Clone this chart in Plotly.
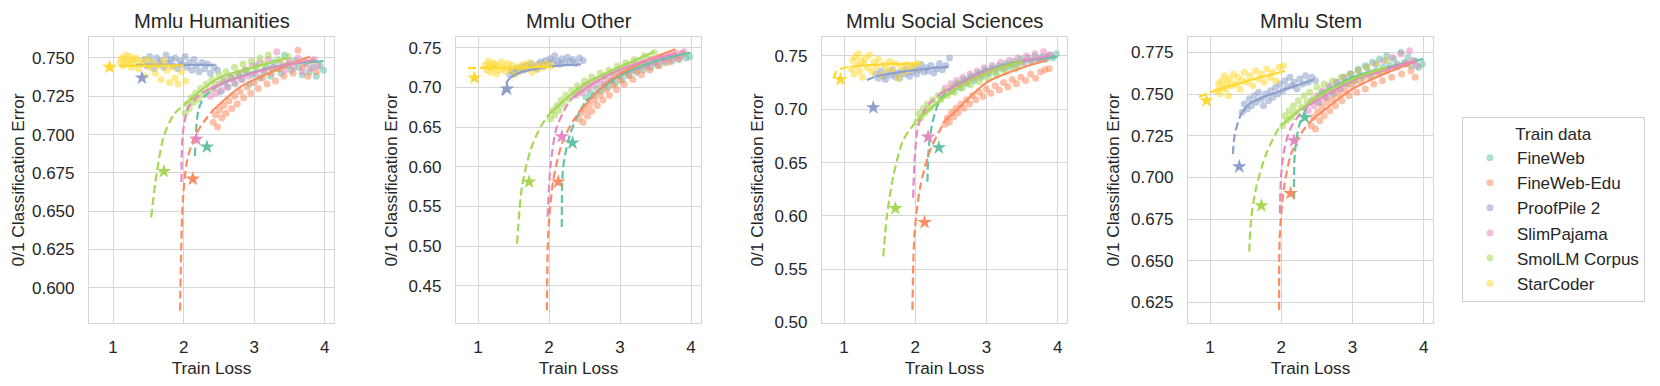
import plotly.graph_objects as go

# Train data sets, legend order, and their seaborn "Set2" colours
DATASETS = ["FineWeb", "FineWeb-Edu", "ProofPile 2", "SlimPajama", "SmolLM Corpus", "StarCoder"]
COLORS = ["#66c2a5", "#fc8d62", "#8da0cb", "#e78ac3", "#a6d854", "#ffd92f"]
PANELS = ["Mmlu Humanities", "Mmlu Other", "Mmlu Social Sciences", "Mmlu Stem"]

# Train loss of the models (same runs in every panel)
LOSS_FINEWEB = [2.52, 2.58, 2.63, 2.68, 2.73, 2.78, 2.83, 2.88, 2.93, 2.98, 3.03, 3.08, 3.13, 3.18, 3.23,
                3.28, 3.33, 3.38, 3.43, 3.48, 3.53, 3.58, 3.63, 3.68, 3.73, 3.78, 3.83, 3.88, 3.93, 3.98]
LOSS_EDU = [2.42, 2.45, 2.48, 2.51, 2.54, 2.57, 2.60, 2.64, 2.68, 2.72, 2.76, 2.80, 2.85, 2.90, 2.95,
            3.00, 3.06, 3.12, 3.18, 3.24, 3.30, 3.36, 3.42, 3.48, 3.55, 3.62, 3.69, 3.76, 3.82, 3.88]
LOSS_PROOF = [1.45, 1.48, 1.52, 1.55, 1.58, 1.62, 1.65, 1.68, 1.72, 1.75, 1.78, 1.82, 1.85, 1.88, 1.92,
              1.95, 1.98, 2.02, 2.05, 2.08, 2.12, 2.15, 2.18, 2.22, 2.26, 2.30, 2.34, 2.38, 2.43, 2.48]
LOSS_SLIM = [2.38, 2.42, 2.46, 2.50, 2.54, 2.58, 2.62, 2.67, 2.72, 2.77, 2.82, 2.87, 2.92, 2.97, 3.02,
             3.08, 3.14, 3.20, 3.26, 3.32, 3.38, 3.44, 3.50, 3.56, 3.62, 3.68, 3.74, 3.80, 3.85, 3.90]
LOSS_SMOL = [2.02, 2.05, 2.08, 2.11, 2.14, 2.17, 2.20, 2.24, 2.28, 2.32, 2.36, 2.40, 2.45, 2.50, 2.55,
             2.60, 2.66, 2.72, 2.78, 2.84, 2.90, 2.96, 3.02, 3.08, 3.14, 3.20, 3.27, 3.34, 3.41, 3.48]
LOSS_STAR = [1.10, 1.12, 1.14, 1.16, 1.18, 1.20, 1.22, 1.24, 1.26, 1.28, 1.30, 1.33, 1.36, 1.39, 1.42,
             1.45, 1.48, 1.52, 1.56, 1.60, 1.64, 1.68, 1.72, 1.76, 1.80, 1.84, 1.88, 1.92, 1.97, 2.03]
LOSS = dict(zip(DATASETS, [LOSS_FINEWEB, LOSS_EDU, LOSS_PROOF, LOSS_SLIM, LOSS_SMOL, LOSS_STAR]))

# 0/1 classification error per panel
ERR_HUM = {
    "FineWeb": [0.728, 0.734, 0.731, 0.737, 0.733, 0.740, 0.736, 0.742, 0.733, 0.739, 0.745, 0.737, 0.741, 0.744, 0.738,
                0.747, 0.743, 0.740, 0.752, 0.745, 0.742, 0.748, 0.744, 0.739, 0.746, 0.741, 0.744, 0.738, 0.745, 0.742],
    "FineWeb-Edu": [0.708, 0.713, 0.705, 0.716, 0.711, 0.719, 0.714, 0.722, 0.717, 0.725, 0.720, 0.728, 0.724, 0.731, 0.727,
                    0.734, 0.730, 0.737, 0.733, 0.740, 0.735, 0.743, 0.738, 0.746, 0.740, 0.755, 0.744, 0.738, 0.748, 0.741],
    "ProofPile 2": [0.749, 0.745, 0.751, 0.747, 0.743, 0.750, 0.746, 0.748, 0.744, 0.752, 0.747, 0.749, 0.745, 0.750, 0.743,
                    0.748, 0.746, 0.751, 0.744, 0.747, 0.742, 0.749, 0.745, 0.741, 0.747, 0.743, 0.746, 0.740, 0.744, 0.742],
    "SlimPajama": [0.725, 0.730, 0.727, 0.733, 0.729, 0.736, 0.731, 0.738, 0.734, 0.740, 0.736, 0.742, 0.738, 0.745, 0.740,
                   0.747, 0.742, 0.749, 0.744, 0.754, 0.746, 0.742, 0.748, 0.744, 0.750, 0.741, 0.747, 0.743, 0.749, 0.745],
    "SmolLM Corpus": [0.714, 0.720, 0.717, 0.724, 0.721, 0.727, 0.723, 0.730, 0.726, 0.733, 0.729, 0.736, 0.732, 0.739, 0.735,
                      0.741, 0.737, 0.744, 0.740, 0.746, 0.742, 0.748, 0.744, 0.750, 0.746, 0.752, 0.743, 0.749, 0.745, 0.751],
    "StarCoder": [0.747, 0.750, 0.745, 0.749, 0.752, 0.746, 0.748, 0.751, 0.744, 0.749, 0.747, 0.750, 0.743, 0.748, 0.746,
                  0.738, 0.749, 0.744, 0.747, 0.740, 0.745, 0.736, 0.748, 0.742, 0.734, 0.744, 0.737, 0.733, 0.741, 0.735],
}
ERR_OTH = {
    "FineWeb": [0.688, 0.694, 0.690, 0.699, 0.695, 0.704, 0.700, 0.709, 0.705, 0.714, 0.710, 0.718, 0.715, 0.722, 0.719,
                0.726, 0.722, 0.729, 0.725, 0.732, 0.728, 0.735, 0.731, 0.737, 0.733, 0.740, 0.735, 0.742, 0.737, 0.739],
    "FineWeb-Edu": [0.660, 0.668, 0.656, 0.672, 0.664, 0.678, 0.670, 0.684, 0.677, 0.690, 0.684, 0.697, 0.690, 0.703, 0.697,
                    0.709, 0.704, 0.715, 0.710, 0.721, 0.716, 0.727, 0.722, 0.732, 0.727, 0.737, 0.732, 0.741, 0.736, 0.743],
    "ProofPile 2": [0.716, 0.721, 0.718, 0.724, 0.720, 0.726, 0.722, 0.728, 0.724, 0.730, 0.726, 0.723, 0.729, 0.732, 0.727,
                    0.734, 0.730, 0.736, 0.732, 0.740, 0.733, 0.729, 0.736, 0.731, 0.738, 0.733, 0.735, 0.730, 0.737, 0.734],
    "SlimPajama": [0.690, 0.697, 0.693, 0.702, 0.698, 0.706, 0.702, 0.710, 0.706, 0.714, 0.710, 0.718, 0.714, 0.722, 0.718,
                   0.726, 0.722, 0.729, 0.725, 0.732, 0.728, 0.735, 0.731, 0.738, 0.734, 0.741, 0.736, 0.743, 0.739, 0.745],
    "SmolLM Corpus": [0.660, 0.671, 0.665, 0.677, 0.671, 0.684, 0.678, 0.690, 0.685, 0.696, 0.691, 0.702, 0.697, 0.708, 0.703,
                      0.713, 0.709, 0.718, 0.714, 0.722, 0.719, 0.727, 0.723, 0.731, 0.727, 0.735, 0.731, 0.740, 0.736, 0.744],
    "StarCoder": [0.728, 0.722, 0.733, 0.726, 0.719, 0.731, 0.724, 0.729, 0.717, 0.727, 0.722, 0.732, 0.725, 0.720, 0.730,
                  0.723, 0.728, 0.716, 0.726, 0.721, 0.729, 0.724, 0.731, 0.719, 0.727, 0.723, 0.728, 0.725, 0.730, 0.727],
}
ERR_SOC = {
    "FineWeb": [0.717, 0.724, 0.720, 0.728, 0.724, 0.731, 0.727, 0.734, 0.730, 0.737, 0.733, 0.739, 0.735, 0.741, 0.738,
                0.743, 0.740, 0.745, 0.742, 0.747, 0.744, 0.748, 0.745, 0.750, 0.746, 0.749, 0.747, 0.751, 0.748, 0.752],
    "FineWeb-Edu": [0.686, 0.692, 0.688, 0.697, 0.693, 0.701, 0.697, 0.705, 0.701, 0.709, 0.705, 0.713, 0.709, 0.716, 0.712,
                    0.719, 0.715, 0.722, 0.718, 0.725, 0.721, 0.728, 0.724, 0.730, 0.727, 0.733, 0.729, 0.735, 0.737, 0.738],
    "ProofPile 2": [0.733, 0.729, 0.736, 0.731, 0.728, 0.735, 0.732, 0.737, 0.730, 0.734, 0.729, 0.736, 0.733, 0.738, 0.731,
                    0.735, 0.740, 0.733, 0.737, 0.742, 0.735, 0.739, 0.736, 0.741, 0.734, 0.738, 0.743, 0.737, 0.741, 0.748],
    "SlimPajama": [0.713, 0.720, 0.716, 0.724, 0.720, 0.727, 0.723, 0.730, 0.726, 0.733, 0.729, 0.736, 0.732, 0.739, 0.735,
                   0.741, 0.738, 0.744, 0.740, 0.746, 0.742, 0.748, 0.744, 0.750, 0.746, 0.752, 0.747, 0.754, 0.749, 0.751],
    "SmolLM Corpus": [0.688, 0.696, 0.692, 0.701, 0.697, 0.705, 0.701, 0.709, 0.705, 0.713, 0.709, 0.717, 0.713, 0.720, 0.716,
                      0.724, 0.720, 0.727, 0.723, 0.730, 0.726, 0.733, 0.729, 0.736, 0.732, 0.739, 0.735, 0.742, 0.738, 0.744],
    "StarCoder": [0.738, 0.746, 0.733, 0.749, 0.741, 0.752, 0.736, 0.745, 0.730, 0.743, 0.748, 0.739, 0.751, 0.735, 0.744,
                  0.740, 0.747, 0.732, 0.742, 0.738, 0.745, 0.736, 0.743, 0.729, 0.740, 0.735, 0.742, 0.737, 0.741, 0.743],
}
ERR_STEM = {
    "FineWeb": [0.745, 0.751, 0.748, 0.754, 0.750, 0.757, 0.753, 0.760, 0.756, 0.762, 0.758, 0.765, 0.761, 0.767, 0.763,
                0.769, 0.764, 0.771, 0.766, 0.773, 0.767, 0.771, 0.768, 0.775, 0.769, 0.772, 0.767, 0.770, 0.766, 0.768],
    "FineWeb-Edu": [0.731, 0.736, 0.729, 0.739, 0.734, 0.742, 0.737, 0.745, 0.740, 0.747, 0.743, 0.750, 0.746, 0.752, 0.749,
                    0.755, 0.751, 0.757, 0.753, 0.760, 0.756, 0.762, 0.758, 0.764, 0.760, 0.766, 0.762, 0.768, 0.764, 0.760],
    "ProofPile 2": [0.739, 0.744, 0.741, 0.747, 0.743, 0.749, 0.745, 0.751, 0.747, 0.743, 0.750, 0.746, 0.752, 0.748, 0.754,
                    0.750, 0.756, 0.752, 0.758, 0.754, 0.760, 0.755, 0.757, 0.753, 0.759, 0.756, 0.761, 0.757, 0.760, 0.758],
    "SlimPajama": [0.740, 0.746, 0.743, 0.749, 0.745, 0.752, 0.748, 0.755, 0.751, 0.757, 0.753, 0.760, 0.756, 0.762, 0.758,
                   0.764, 0.760, 0.766, 0.761, 0.768, 0.763, 0.770, 0.765, 0.772, 0.767, 0.774, 0.768, 0.776, 0.770, 0.767],
    "SmolLM Corpus": [0.731, 0.737, 0.734, 0.740, 0.736, 0.743, 0.739, 0.746, 0.742, 0.749, 0.745, 0.751, 0.747, 0.754, 0.750,
                      0.756, 0.752, 0.758, 0.754, 0.760, 0.756, 0.762, 0.758, 0.764, 0.760, 0.766, 0.762, 0.768, 0.764, 0.770],
    "StarCoder": [0.752, 0.756, 0.750, 0.758, 0.754, 0.761, 0.753, 0.757, 0.749, 0.759, 0.755, 0.762, 0.756, 0.760, 0.753,
                  0.758, 0.763, 0.757, 0.761, 0.755, 0.764, 0.759, 0.762, 0.757, 0.765, 0.760, 0.763, 0.758, 0.766, 0.767],
}

# Fitted curves (dashed below the lowest train loss)
FIT_HUM = {
    "FineWeb": ([2.16, 2.21, 2.30, 2.52, 3.0, 3.5, 3.98], [0.686, 0.716, 0.725, 0.733, 0.741, 0.746, 0.748]),
    "FineWeb-Edu": ([1.95, 1.99, 2.05, 2.16, 2.33, 2.42, 2.8, 3.3, 3.79], [0.585, 0.657, 0.683, 0.699, 0.711, 0.716, 0.731, 0.742, 0.751]),
    "ProofPile 2": ([1.32, 1.45, 1.90, 2.45], [0.7455, 0.7455, 0.7455, 0.7455]),
    "SlimPajama": ([1.97, 1.99, 2.07, 2.23, 2.38, 2.7, 3.2, 3.88], [0.669, 0.701, 0.718, 0.726, 0.730, 0.736, 0.743, 0.749]),
    "SmolLM Corpus": ([1.54, 1.62, 1.72, 1.86, 2.02, 2.5, 3.0, 3.48], [0.646, 0.675, 0.699, 0.713, 0.720, 0.737, 0.744, 0.750]),
    "StarCoder": ([0.92, 1.10, 1.50, 2.00], [0.7445, 0.7448, 0.7450, 0.7452]),
}
FIT_OTH = {
    "FineWeb": ([2.18, 2.20, 2.30, 2.44, 2.52, 3.0, 3.5, 3.99], [0.524, 0.600, 0.642, 0.671, 0.683, 0.715, 0.733, 0.744]),
    "FineWeb-Edu": ([1.97, 1.99, 2.06, 2.20, 2.35, 2.42, 2.8, 3.3, 3.78], [0.419, 0.516, 0.583, 0.634, 0.659, 0.668, 0.705, 0.731, 0.748]),
    "ProofPile 2": ([1.34, 1.41, 1.45, 1.60, 1.80, 2.10, 2.45], [0.690, 0.707, 0.712, 0.719, 0.723, 0.727, 0.729]),
    "SlimPajama": ([1.98, 2.02, 2.11, 2.30, 2.38, 2.8, 3.3, 3.8], [0.537, 0.600, 0.650, 0.684, 0.690, 0.714, 0.732, 0.743]),
    "SmolLM Corpus": ([1.55, 1.62, 1.74, 1.88, 2.02, 2.5, 3.0, 3.48], [0.503, 0.575, 0.621, 0.650, 0.668, 0.704, 0.726, 0.745]),
    "StarCoder": ([0.86, 1.10, 1.50, 2.05], [0.724, 0.725, 0.725, 0.726]),
}
FIT_SOC = {
    "FineWeb": ([2.17, 2.19, 2.25, 2.35, 2.52, 3.0, 3.5, 3.99], [0.632, 0.665, 0.690, 0.709, 0.721, 0.737, 0.745, 0.749]),
    "FineWeb-Edu": ([1.96, 1.99, 2.07, 2.21, 2.35, 2.42, 2.53, 3.0, 3.5, 3.85], [0.512, 0.584, 0.6275, 0.662, 0.681, 0.690, 0.696, 0.725, 0.739, 0.746]),
    "ProofPile 2": ([1.32, 1.45, 1.90, 2.46], [0.7275, 0.731, 0.736, 0.740]),
    "SlimPajama": ([1.97, 1.99, 2.04, 2.16, 2.38, 2.53, 3.0, 3.5, 3.88], [0.617, 0.652, 0.684, 0.7025, 0.716, 0.721, 0.736, 0.745, 0.750]),
    "SmolLM Corpus": ([1.55, 1.60, 1.69, 1.83, 1.97, 2.02, 2.5, 3.0, 3.5], [0.562, 0.599, 0.637, 0.671, 0.685, 0.689, 0.716, 0.734, 0.745]),
    "StarCoder": ([0.85, 0.90, 1.00, 1.10, 1.50, 2.07], [0.729, 0.736, 0.739, 0.740, 0.742, 0.743]),
}
FIT_STEM = {
    "FineWeb": ([2.18, 2.19, 2.26, 2.40, 2.52, 3.0, 3.5, 3.99], [0.6868, 0.7144, 0.7324, 0.7444, 0.749, 0.760, 0.766, 0.771]),
    "FineWeb-Edu": ([1.97, 1.98, 2.04, 2.14, 2.28, 2.42, 3.0, 3.5, 3.86], [0.6204, 0.6664, 0.6944, 0.7144, 0.7264, 0.734, 0.753, 0.763, 0.769]),
    "ProofPile 2": ([1.32, 1.35, 1.42, 1.45, 1.56, 2.0, 2.45], [0.714, 0.7264, 0.7364, 0.739, 0.7444, 0.752, 0.7584]),
    "SlimPajama": ([1.98, 2.00, 2.05, 2.14, 2.31, 2.38, 3.0, 3.5, 3.88], [0.6784, 0.7024, 0.7184, 0.7304, 0.7404, 0.743, 0.758, 0.765, 0.770]),
    "SmolLM Corpus": ([1.55, 1.58, 1.65, 1.79, 1.98, 2.02, 2.5, 3.0, 3.48], [0.6554, 0.6764, 0.6944, 0.7144, 0.7304, 0.732, 0.748, 0.759, 0.766]),
    "StarCoder": ([0.845, 1.10, 1.50, 2.05], [0.7484, 0.7525, 0.7575, 0.7638]),
}

# Larger held-out models (star markers), in DATASETS order
STAR_LOSS = [2.33, 2.13, 1.41, 2.18, 1.72, 0.95]
STAR_HUM = [0.692, 0.671, 0.737, 0.697, 0.676, 0.744]
STAR_OTH = [0.630, 0.581, 0.698, 0.638, 0.581, 0.712]
STAR_SOC = [0.664, 0.594, 0.7016, 0.674, 0.607, 0.728]
STAR_STEM = [0.736, 0.6904, 0.7064, 0.722, 0.683, 0.746]

ERRS = [ERR_HUM, ERR_OTH, ERR_SOC, ERR_STEM]
FITS = [FIT_HUM, FIT_OTH, FIT_SOC, FIT_STEM]
STARS = [STAR_HUM, STAR_OTH, STAR_SOC, STAR_STEM]

# Axis settings per panel
X_RANGES = [[0.66, 4.13], [0.69, 4.14], [0.69, 4.13], [0.69, 4.13]]
Y_RANGES = [[0.577, 0.7637], [0.403, 0.7635], [0.4995, 0.7678], [0.6126, 0.7842]]
Y_TICKS = [
    [0.600, 0.625, 0.650, 0.675, 0.700, 0.725, 0.750],
    [0.45, 0.50, 0.55, 0.60, 0.65, 0.70, 0.75],
    [0.50, 0.55, 0.60, 0.65, 0.70, 0.75],
    [0.625, 0.650, 0.675, 0.700, 0.725, 0.750, 0.775],
]
Y_FORMATS = [".3f", ".2f", ".2f", ".3f"]

# The page body adds an 8px margin, so the figure is laid out 8px up/left
OFF = 8
W, H = 1660 - OFF, 386 - OFF
X_PIX = [(89, 334), (456, 701), (822, 1067), (1188, 1433)]
Y_DOMAIN = [1 - (323 - OFF) / H, 1 - (37 - OFF) / H]

FONT = "Liberation Sans, Arial, sans-serif"
TEXT = "#262626"
GRID = "#d6d6d6"

fig = go.Figure()

for p in range(4):
    xa = "x" if p == 0 else f"x{p + 1}"
    ya = "y" if p == 0 else f"y{p + 1}"

    # Scatter of the trained models
    for d, name in enumerate(DATASETS):
        fig.add_trace(go.Scatter(
            x=LOSS[name], y=ERRS[p][name], mode="markers", name=name,
            legendgroup=name, showlegend=(p == 0),
            marker=dict(color=COLORS[d], size=7, opacity=0.55, line=dict(width=0)),
            xaxis=xa, yaxis=ya,
        ))

    # Fitted curves: dashed extrapolation, solid over the data range
    for d, name in enumerate(DATASETS):
        fx, fy = FITS[p][name]
        lo = min(LOSS[name])
        ex = [(a, b) for a, b in zip(fx, fy) if a <= lo + 1e-9]
        inr = [(a, b) for a, b in zip(fx, fy) if a >= ex[-1][0]] if ex else list(zip(fx, fy))
        if len(ex) > 1:
            fig.add_trace(go.Scatter(
                x=[a for a, _ in ex], y=[b for _, b in ex], mode="lines",
                line=dict(color=COLORS[d], width=2.2, dash="8px,4px", shape="spline", smoothing=0.8),
                showlegend=False, hoverinfo="skip", xaxis=xa, yaxis=ya,
            ))
        fig.add_trace(go.Scatter(
            x=[a for a, _ in inr], y=[b for _, b in inr], mode="lines",
            line=dict(color=COLORS[d], width=2.2, shape="spline", smoothing=0.8),
            showlegend=False, hoverinfo="skip", xaxis=xa, yaxis=ya,
        ))

    # Stars
    for d, name in enumerate(DATASETS):
        fig.add_trace(go.Scatter(
            x=[STAR_LOSS[d]], y=[STARS[p][d]], mode="markers",
            marker=dict(symbol="star", color=COLORS[d], size=11, line=dict(width=0)),
            showlegend=False, xaxis=xa, yaxis=ya,
        ))

    x0, x1 = X_PIX[p][0] - OFF, X_PIX[p][1] - OFF
    axis_common = dict(
        showline=True, mirror=True, linecolor=GRID, linewidth=1.2,
        showgrid=True, gridcolor=GRID, gridwidth=1, zeroline=False,
        ticks="", tickfont=dict(family=FONT, size=17, color=TEXT),
        title_font=dict(family=FONT, size=17.2, color=TEXT),
        automargin=False,
    )
    fig.layout[f"xaxis{'' if p == 0 else p + 1}"] = dict(
        axis_common, domain=[x0 / W, x1 / W], anchor=ya, range=X_RANGES[p],
        tickvals=[1, 2, 3, 4], title=dict(text="Train Loss", standoff=6),
        ticklabelstandoff=8,
    )
    fig.layout[f"yaxis{'' if p == 0 else p + 1}"] = dict(
        axis_common, domain=Y_DOMAIN, anchor=xa, range=Y_RANGES[p],
        tickvals=Y_TICKS[p], tickformat=Y_FORMATS[p],
        title=dict(text="0/1 Classification Error", standoff=6),
        ticklabelstandoff=10,
    )
    fig.add_annotation(
        text=PANELS[p], x=(x0 + x1) / 2 / W, y=1 - (21 - OFF) / H, xref="paper", yref="paper",
        xanchor="center", yanchor="middle", showarrow=False,
        font=dict(family=FONT, size=20.2, color=TEXT),
    )

fig.update_layout(
    width=W, height=H, margin=dict(l=0, r=0, t=0, b=0),
    paper_bgcolor="white", plot_bgcolor="white",
    legend=dict(
        x=(1462 - OFF) / W, y=1 - (117 - OFF) / H, xanchor="left", yanchor="top",
        bordercolor="#d0d0d0", borderwidth=1, bgcolor="white",
        title=dict(text="Train data", side="top center", font=dict(family=FONT, size=17, color=TEXT)),
        font=dict(family=FONT, size=17, color=TEXT),
        itemsizing="trace", tracegroupgap=0, itemwidth=44,
    ),
)

fig.write_html("out.html")
